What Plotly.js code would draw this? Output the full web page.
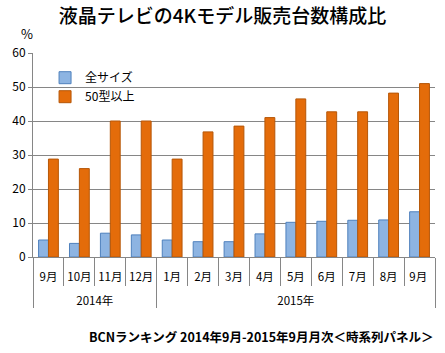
<!DOCTYPE html>
<html><head><meta charset="utf-8">
<script src="https://cdn.plot.ly/plotly-3.0.1.min.js"></script>
<style>html,body{margin:0;padding:0;background:#fff}#c{width:445px;height:353px}</style>
</head><body><div id="c"></div>
<script>
const years = ["2014年","2014年","2014年","2014年","2015年","2015年","2015年","2015年","2015年","2015年","2015年","2015年","2015年"];
const months = ["9月","10月","11月","12月","1月","2月","3月","4月","5月","6月","7月","8月","9月 "];
const allSizes = [5, 4, 7, 6.5, 5, 4.5, 4.5, 6.8, 10.2, 10.5, 10.8, 10.9, 13.3];
const over50 = [28.8, 26, 40, 40, 28.8, 36.8, 38.5, 41, 46.5, 42.7, 42.7, 48.2, 51];
const seriesNames = ["全サイズ", "50型以上"];
const yTicks = [0,10,20,30,40,50,60];

const font = "'Noto Sans CJK JP', 'Noto Sans', sans-serif";
// pad inner labels with a blank second line so the year row sits lower, as in the reference
const monthLabels = months.map(m => m + "<br>\u00a0");
const data = [
  {type:"bar", name:seriesNames[0], x:[years, monthLabels], y:allSizes,
   marker:{color:"#8DB4E2", line:{color:"#4F81BD", width:1}}},
  {type:"bar", name:seriesNames[1], x:[years, monthLabels], y:over50,
   marker:{color:"#E46C0A", line:{color:"#B65708", width:1}}}
];
const layout = {
  width:445, height:353,
  margin:{l:33, r:10, t:53, b:96},
  paper_bgcolor:"#fff", plot_bgcolor:"#fff",
  font:{family:font, size:12, color:"#000"},
  title:{text:"液晶テレビの4Kモデル販売台数構成比", font:{family:font, size:19, color:"#000", weight:500}, x:0.5, xanchor:"center", y:0.955, yanchor:"middle"},
  barmode:"group", bargap:0.36, bargroupgap:0,
  showlegend:true,
  legend:{x:0.03, y:0.95, xanchor:"left", yanchor:"top", bgcolor:"rgba(0,0,0,0)", font:{size:12}, tracegroupgap:2, itemwidth:30},
  xaxis:{type:"multicategory", showline:true, linecolor:"#868686", linewidth:1, tickangle:0,
    ticks:"outside", tickson:"boundaries", ticklen:28, tickcolor:"#868686", tickwidth:1,
    ticklabelstandoff:9,
    showdividers:true, dividercolor:"#868686", dividerwidth:1,
    tickfont:{size:11.5, color:"#000"}, showgrid:false},
  yaxis:{range:[0,60], tickvals:yTicks, showgrid:true, gridcolor:"#868686", gridwidth:1,
    showline:true, linecolor:"#868686", zeroline:false, ticks:"outside", ticklen:4, tickcolor:"#868686",
    tickfont:{size:12, color:"#000"}},
  annotations:[
    {text:"%", xref:"paper", yref:"paper", x:-0.015, y:1.0, xanchor:"center", yanchor:"bottom", yshift:8, showarrow:false, font:{size:13}},
    {text:"<b>BCNランキング 2014年9月-2015年9月月次＜時系列パネル＞</b>", xref:"paper", yref:"paper", x:1.0, y:-0.39, xanchor:"right", yanchor:"middle", showarrow:false, font:{size:12.5}}
  ]
};
Plotly.newPlot("c", data, layout, {displayModeBar:false, staticPlot:true});
</script></body></html>
